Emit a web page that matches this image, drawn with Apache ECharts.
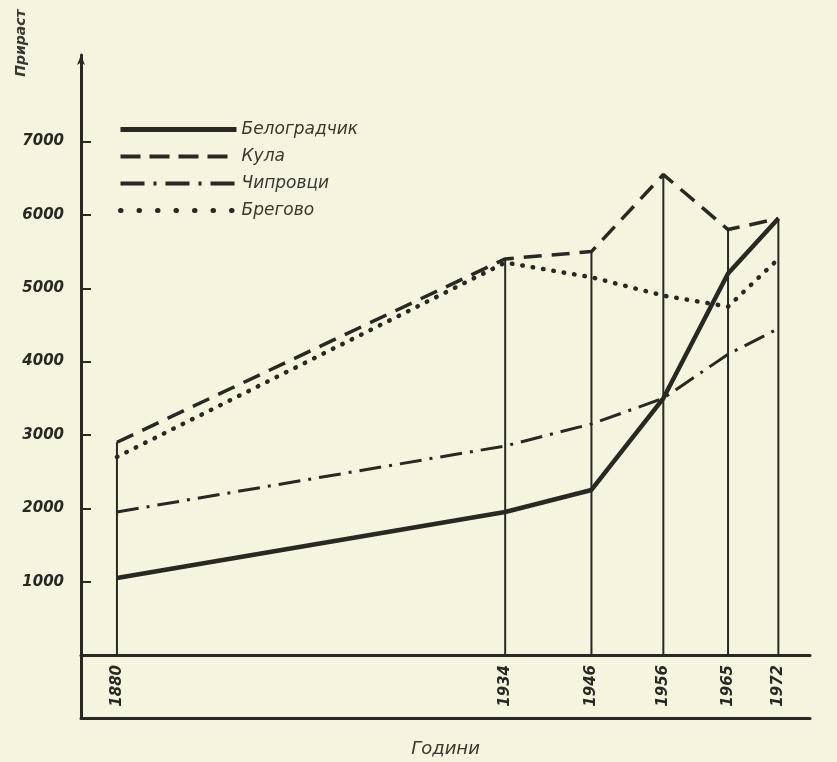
<!DOCTYPE html>
<html>

<head>
    <meta charset="UTF-8">
    <title>Прираст</title>
    <script src="https://cdn.jsdelivr.net/npm/echarts@6/dist/echarts.min.js"></script>
    <style>
        html, body { margin: 0; padding: 0; background: #f6f4de; }
        #chart { width: 837px; height: 762px; }
    </style>
</head>

<body>
    <div id="chart"></div>
    <script>
        // години и стойности (отчетени от графиката)
        const years = [1880, 1934, 1946, 1956, 1965, 1972];
        const belogradchik = [1050, 1950, 2250, 3500, 5200, 5950];
        const kula = [2900, 5400, 5500, 6550, 5800, 5950];
        const chiprovtsi = [1950, 2850, 3150, 3500, 4100, 4450];
        const bregovo = [2700, 5350, 5150, 4900, 4750, 5400];
        const yTicks = [1000, 2000, 3000, 4000, 5000, 6000, 7000];

        const ink = '#2b2723';
        const font = 'DejaVu Sans';

        // стилове на линиите
        const styles = {
            'Белоградчик': { color: ink, width: 4.5 },
            'Кула': { color: ink, width: 3.5, type: [18, 10] },
            'Чипровци': { color: ink, width: 3, type: [22, 8, 3, 8] },
            'Брегово': { color: ink, width: 4.5, type: [0.5, 10], cap: 'round' }
        };
        const legendStyles = {
            'Белоградчик': { color: ink, width: 5 },
            'Кула': { color: ink, width: 4, type: [20, 9] },
            'Чипровци': { color: ink, width: 4, type: [24, 9, 3, 9] },
            'Брегово': { color: ink, width: 5, type: [0.5, 18], cap: 'round' }
        };

        // вертикалните линии стигат до най-високата стойност за годината
        const drops = years.map((y, i) => [y, Math.max(belogradchik[i], kula[i], chiprovtsi[i], bregovo[i])]);

        const pairs = arr => years.map((y, i) => [y, arr[i]]);

        const lineSeries = (name, arr) => ({
            name: name,
            type: 'line',
            symbol: 'none',
            data: pairs(arr),
            lineStyle: styles[name],
            itemStyle: { color: ink },
            z: 3
        });

        const chart = echarts.init(document.getElementById('chart'));

        chart.setOption({
            animation: false,
            backgroundColor: '#f6f4de',
            grid: [
                { left: 81, right: 27, top: 55, bottom: 107, outerBoundsMode: 'none' },
                // лентата с годините под оста
                { left: 81, right: 27, top: 655, bottom: 44, outerBoundsMode: 'none' }
            ],
            legend: {
                orient: 'vertical',
                left: 113,
                top: 116,
                itemWidth: 116,
                itemHeight: 14,
                itemGap: 10,
                data: Object.keys(legendStyles).map(name => ({ name: name, lineStyle: legendStyles[name] })),
                itemStyle: { color: 'transparent', borderWidth: 0, opacity: 0 },
                textStyle: { fontFamily: font, fontStyle: 'italic', fontSize: 17, color: '#3a3631' }
            },
            graphic: [{
                type: 'text',
                x: 21,
                y: 43,
                rotation: Math.PI / 2,
                style: {
                    text: 'Прираст',
                    font: 'italic bold 14px "DejaVu Sans"',
                    fill: '#3a3631',
                    align: 'center',
                    verticalAlign: 'middle'
                }
            }],
            xAxis: [{
                type: 'value',
                gridIndex: 0,
                min: 1875,
                max: 1976.4,
                axisLine: { lineStyle: { color: ink, width: 3 } },
                axisTick: { show: false },
                splitLine: { show: false },
                axisLabel: {
                    customValues: years,
                    formatter: v => String(v),
                    rotate: 90,
                    margin: 10,
                    fontFamily: font,
                    fontStyle: 'italic',
                    fontWeight: 'bold',
                    fontSize: 15,
                    color: ink
                }
            }, {
                type: 'value',
                gridIndex: 1,
                min: 1875,
                max: 1976.4,
                axisLine: { lineStyle: { color: ink, width: 3 } },
                axisTick: { show: false },
                axisLabel: { show: false },
                splitLine: { show: false },
                name: 'Години',
                nameLocation: 'middle',
                nameGap: 22,
                nameTextStyle: { fontFamily: font, fontStyle: 'italic', fontSize: 18, color: '#3a3631' }
            }],
            yAxis: [{
                type: 'value',
                gridIndex: 0,
                min: 0,
                max: 8180,
                splitLine: { show: false },
                axisLine: {
                    show: true,
                    symbol: ['none', 'arrow'],
                    symbolSize: [6, 10],
                    lineStyle: { color: ink, width: 3 }
                },
                axisTick: {
                    customValues: yTicks,
                    inside: true,
                    length: 10,
                    lineStyle: { color: ink, width: 2 }
                },
                axisLabel: {
                    customValues: yTicks,
                    formatter: v => String(v),
                    margin: 17,
                    fontFamily: font,
                    fontStyle: 'italic',
                    fontWeight: 'bold',
                    fontSize: 15,
                    color: ink
                }
            }, {
                type: 'value',
                gridIndex: 1,
                min: 0,
                max: 1,
                splitLine: { show: false },
                axisLine: { show: true, lineStyle: { color: ink, width: 3 } },
                axisTick: { show: false },
                axisLabel: { show: false }
            }],
            series: [{
                name: 'drops',
                type: 'bar',
                barWidth: 2,
                silent: true,
                itemStyle: { color: ink },
                data: drops,
                z: 1
            },
            lineSeries('Белоградчик', belogradchik),
            lineSeries('Кула', kula),
            lineSeries('Чипровци', chiprovtsi),
            lineSeries('Брегово', bregovo)]
        });
    </script>
</body>

</html>
